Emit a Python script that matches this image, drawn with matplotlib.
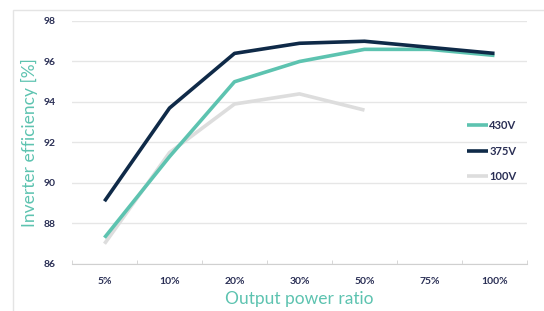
import matplotlib
matplotlib.use("Agg")
import matplotlib.pyplot as plt
import matplotlib.patches as mpatches

plt.rcParams["font.family"] = ["Lato", "DejaVu Sans"]

# ── data ──────────────────────────────────────────────────────────────────────
ratios   = ["5%", "10%", "20%", "30%", "50%", "75%", "100%"]
eff_430  = [87.3, 91.3, 95.0, 96.0, 96.6, 96.6, 96.3]
eff_375  = [89.1, 93.7, 96.4, 96.9, 97.0, 96.7, 96.4]
eff_100  = [87.0, 91.5, 93.9, 94.4, 93.6]
y_ticks  = [86, 88, 90, 92, 94, 96, 98]

TEAL  = "#5dc3b0"
NAVY  = "#0f2a48"
LGRAY = "#dddddd"
TXT   = "#2a2f55"

W, H = 544, 311
fig = plt.figure(figsize=(W / 100, H / 100), dpi=100)
fig.patch.set_facecolor("white")

# outer frame
fig.patches.append(mpatches.Rectangle((13 / W, -0.05), 1.1, 1 - 10 / H + 0.05,
                                      transform=fig.transFigure, fill=False,
                                      edgecolor="#e4e4e4", linewidth=1))

ax = fig.add_axes([72 / W, 1 - 264 / H, (527 - 72) / W, (264 - 21) / H])
x = list(range(len(ratios)))

ax.plot(x, eff_430, color=TEAL, lw=2.6, label="430V", zorder=3, solid_capstyle="butt")
ax.plot(x, eff_375, color=NAVY, lw=2.6, label="375V", zorder=4, solid_capstyle="butt")
ax.plot(x[:len(eff_100)], eff_100, color=LGRAY, lw=2.6, label="100V", zorder=2,
        solid_capstyle="butt")

ax.set_xlim(-0.5, len(ratios) - 0.5)
ax.set_ylim(86, 98)
ax.set_yticks(y_ticks)
ax.set_yticklabels([str(v) for v in y_ticks])
ax.set_xticks(x)
ax.set_xticklabels(ratios)
ax.set_xticks([i + 0.5 for i in range(-1, len(ratios))], minor=True)

ax.grid(axis="y", color="#e6e6e6", lw=1)
ax.set_axisbelow(True)
for s in ["top", "right", "left"]:
    ax.spines[s].set_visible(False)
ax.spines["bottom"].set_color("#d0d0d0")
ax.spines["bottom"].set_zorder(1)

ax.tick_params(axis="y", length=0, pad=12, labelsize=7.5, labelcolor=TXT)
ax.tick_params(axis="x", which="major", length=0, pad=9, labelsize=7.5, labelcolor=TXT)
ax.tick_params(axis="x", which="minor", length=3, direction="in", color="#d0d0d0")
for lbl in ax.get_xticklabels() + ax.get_yticklabels():
    lbl.set_fontweight("bold")

ax.set_ylabel("Inverter efficiency [%]", color=TEAL, fontsize=12.5)
ax.yaxis.set_label_coords(-0.074, 0.5)
ax.set_xlabel("Output power ratio", color=TEAL, fontsize=12.5, labelpad=4)

leg = ax.legend(loc="center left", bbox_to_anchor=(0.868, 0.465), frameon=False,
                handlelength=1.9, handletextpad=0.1, labelspacing=1.3,
                borderaxespad=0, borderpad=0, fontsize=8)
for t in leg.get_texts():
    t.set_color(TXT)
    t.set_fontweight("bold")

fig.savefig("out.png", dpi=100)
